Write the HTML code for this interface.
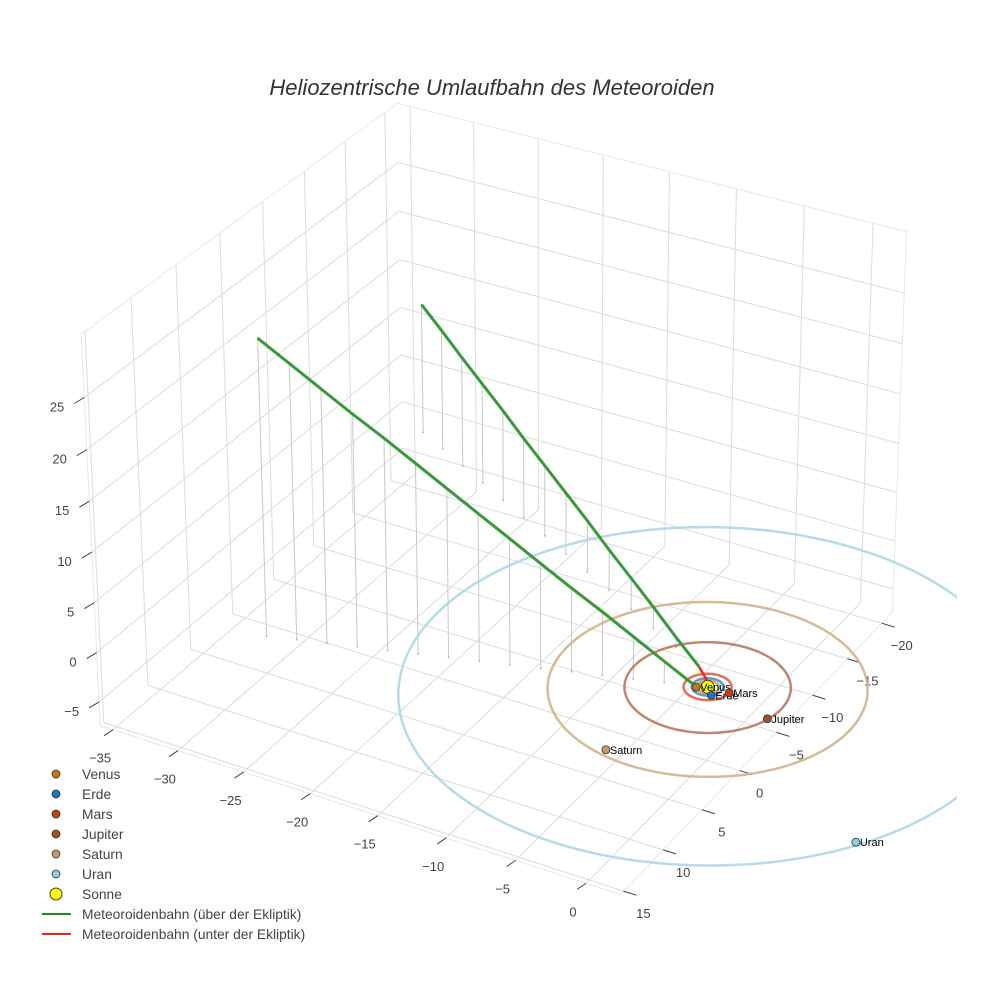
<!DOCTYPE html>
<html><head><meta charset="utf-8"><style>
body{margin:0;background:#fff;}
svg{display:block;font-family:"Liberation Sans",sans-serif;}
</style></head><body>
<svg id="chart" width="984" height="984" viewBox="0 0 984 984">
<rect width="984" height="984" fill="#fff"/>
<text x="492" y="95" text-anchor="middle" font-size="22" font-style="italic" fill="#333">Heliozentrische Umlaufbahn des Meteoroiden</text>
<defs><clipPath id="clip"><rect x="0" y="0" width="957" height="984"/></clipPath></defs>
<g id="grid"></g>
<g id="axes"></g>
<g id="drops"></g>
<g id="orbits" clip-path="url(#clip)"></g>
<g id="traj"></g>
<g id="planets"></g>
<g id="legend"></g>
</svg>
<script>
// ---- data ----
const planetNames = ["Venus","Erde","Mars","Jupiter","Saturn","Uran"];
const planetRadius = [0.72, 1.0, 1.52, 5.2, 9.54, 19.2];
const orbitRadius = [0.72, 1.0, 1.52, 5.25, 10.1, 19.5];
const planetAngle = [149, 48, -2, 15.5, 102.7, 33.8];
const planetColors = ["#c27c0e","#1f77b4","#c1440e","#a0522d","#c49a6c","#8fd0e0"];
const orbitColors = ["#d9a050","#4a90c8","#e06040","#b87a60","#d2b48c","#add8e6"];
const traj1X = [-27.6,-25.68,-23.76,-21.84,-19.92,-18.0,-16.08,-14.16,-12.24,-10.32,-8.4,-6.48,-4.56,-2.64,-0.7];
const traj1Y = [8.5,7.91,7.33,6.74,6.16,5.57,4.99,4.4,3.81,3.23,2.64,2.06,1.47,0.89,0.3];
const traj1Z = [29.2,27.1,25.0,22.9,20.9,18.8,16.7,14.6,12.5,10.4,8.3,6.3,4.2,2.1,0];
const traj2X = [-32.5,-30.13,-27.75,-25.38,-23.0,-20.63,-18.25,-15.88,-13.5,-11.13,-8.75,-6.38,-4.0,-1.6];
const traj2Y = [-18.7,-17.4,-16.1,-14.8,-13.5,-12.2,-10.9,-9.6,-8.3,-7.0,-5.7,-4.4,-3.1,-1.8];
const traj2Z = [13.4,12.4,11.3,10.3,9.3,8.2,7.2,6.2,5.2,4.1,3.1,2.1,1.0,0];
const trajRedX = [-1.6,-0.8,0];
const trajRedY = [-1.8,-1.1,-0.4];
const trajRedZ = [0,-0.15,-0.3];
const xTicks = [-35,-30,-25,-20,-15,-10,-5,0];
const yTicks = [-20,-15,-10,-5,0,5,10,15];
const zTicks = [-5,0,5,10,15,20,25];
const legendLabels = ["Venus","Erde","Mars","Jupiter","Saturn","Uran","Sonne","Meteoroidenbahn (über der Ekliptik)","Meteoroidenbahn (unter der Ekliptik)"];

// ---- camera calibration (box corners -> screen) ----
const XR=[-36,2.4], YR=[-21.6,15.4], ZR=[-7.4,31];
const calib = [
 [[XR[0],YR[1],ZR[0]],[99,726]],
 [[XR[1],YR[1],ZR[0]],[620,895]],
 [[XR[1],YR[0],ZR[0]],[892,613]],
 [[XR[0],YR[1],ZR[1]],[81,335]],
 [[XR[1],YR[0],ZR[1]],[906,231]],
 [[XR[0],YR[0],ZR[1]],[398,103]],
 [[0,0,0],[709,685]],
 [[-25,YR[1],ZR[0]],[245,770]],
 [[XR[1],0,ZR[0]],[739,772]],
 [[XR[0],YR[1],25],[84,398]]
];
function solveCam(){
  const A=[],b=[];
  calib.forEach(([[X,Y,Z],[u,v]])=>{
    A.push([X,Y,Z,1,0,0,0,0,-u*X,-u*Y,-u*Z]);b.push(u);
    A.push([0,0,0,0,X,Y,Z,1,-v*X,-v*Y,-v*Z]);b.push(v);
  });
  const n=11,M=[];
  for(let i=0;i<n;i++){M.push([]);for(let j=0;j<=n;j++){let s=0;for(let k=0;k<A.length;k++)s+=A[k][i]*(j<n?A[k][j]:b[k]);M[i].push(s);}}
  for(let i=0;i<n;i++){let p=i;for(let r=i+1;r<n;r++)if(Math.abs(M[r][i])>Math.abs(M[p][i]))p=r;[M[i],M[p]]=[M[p],M[i]];
    for(let r=0;r<n;r++){if(r===i)continue;const f=M[r][i]/M[i][i];for(let c=i;c<=n;c++)M[r][c]-=f*M[i][c];}}
  return M.map((row,i)=>row[n]/row[i]);
}
const P=solveCam();
function proj(x,y,z){const w=P[8]*x+P[9]*y+P[10]*z+1;return [(P[0]*x+P[1]*y+P[2]*z+P[3])/w,(P[4]*x+P[5]*y+P[6]*z+P[7])/w];}
const NS="http://www.w3.org/2000/svg";
function mk(tag,attrs,parent){const e=document.createElementNS(NS,tag);for(const k in attrs)e.setAttribute(k,attrs[k]);parent.appendChild(e);return e;}
function line3(a,b,attrs,parent){const p=proj(...a),q=proj(...b);return mk("line",Object.assign({x1:p[0],y1:p[1],x2:q[0],y2:q[1]},attrs),parent);}
function poly3(pts,attrs,parent){return mk("polyline",Object.assign({points:pts.map(p=>proj(...p).map(v=>v.toFixed(1)).join(",")).join(" "),fill:"none"},attrs),parent);}

const grid=document.getElementById("grid"), axes=document.getElementById("axes");
const gs={stroke:"#dcdcdc","stroke-width":1};
yTicks.forEach(y=>{const l=line3([XR[0],y,ZR[0]],[XR[0],y,ZR[1]],gs,grid);});
zTicks.forEach(z=>{const l=line3([XR[0],YR[0],z],[XR[0],YR[1],z],gs,grid);});
xTicks.forEach(x=>{const l=line3([x,YR[0],ZR[0]],[x,YR[0],ZR[1]],gs,grid);});
zTicks.forEach(z=>{const l=line3([XR[0],YR[0],z],[XR[1],YR[0],z],gs,grid);});
xTicks.forEach(x=>{const l=line3([x,YR[0],ZR[0]],[x,YR[1],ZR[0]],gs,grid);});
yTicks.forEach(y=>{const l=line3([XR[0],y,ZR[0]],[XR[1],y,ZR[0]],gs,grid);});
const es={stroke:"#e8e8e8","stroke-width":1};
[[[XR[0],YR[1],ZR[0]],[XR[1],YR[1],ZR[0]]],[[XR[1],YR[1],ZR[0]],[XR[1],YR[0],ZR[0]]],[[XR[0],YR[1],ZR[0]],[XR[0],YR[1],ZR[1]]],[[XR[1],YR[0],ZR[0]],[XR[1],YR[0],ZR[1]]],[[XR[0],YR[1],ZR[1]],[XR[0],YR[0],ZR[1]]],[[XR[0],YR[0],ZR[1]],[XR[1],YR[0],ZR[1]]]].forEach(([a,b])=>{const l=line3(a,b,es,grid);});
const ts={stroke:"#444","stroke-width":1};
xTicks.forEach(x=>{const p=proj(x,YR[1],ZR[0]);
  const t=mk("line",Object.assign({x1:p[0],y1:p[1],x2:p[0]-9,y2:p[1]+6},ts),axes);
  const tx=mk("text",{x:p[0]-13,y:p[1]+33,"text-anchor":"middle","font-size":13,fill:"#444"},axes);tx.textContent=String(x).replace("-","\u2212");});
yTicks.forEach(y=>{const p=proj(XR[1],y,ZR[0]);
  const t=mk("line",Object.assign({x1:p[0],y1:p[1],x2:p[0]+13,y2:p[1]+4},ts),axes);
  const tx=mk("text",{x:p[0]+20,y:p[1]+27,"text-anchor":"middle","font-size":13,fill:"#444"},axes);tx.textContent=String(y).replace("-","\u2212");});
zTicks.forEach(z=>{const p=proj(XR[0],YR[1],z);
  const t=mk("line",Object.assign({x1:p[0],y1:p[1],x2:p[0]-10,y2:p[1]+6},ts),axes);
  const tx=mk("text",{x:p[0]-20,y:p[1]+14,"text-anchor":"end","font-size":13,fill:"#444"},axes);tx.textContent=String(z).replace("-","\u2212");});

const drops=document.getElementById("drops");
function dropsFor(X,Y,Z){X.forEach((x,i)=>{if(Z[i]<=0)return;const l=line3([x,Y[i],Z[i]],[x,Y[i],0],{stroke:"#c8c8c8","stroke-width":1},drops);
  const p=proj(x,Y[i],0);const c=mk("circle",{cx:p[0],cy:p[1],r:1,fill:"#bbb"},drops);});}
dropsFor(traj1X,traj1Y,traj1Z);dropsFor(traj2X,traj2Y,traj2Z);

const orbits=document.getElementById("orbits");
orbitRadius.forEach((r,i)=>{const pts=[];for(let k=0;k<=180;k++){const a=k/180*2*Math.PI;pts.push([r*Math.cos(a),r*Math.sin(a),0]);}
  const o=poly3(pts,{stroke:orbitColors[i],"stroke-width":2.5,"stroke-opacity":0.9},orbits);});

const traj=document.getElementById("traj");
const t1=poly3(traj1X.map((x,i)=>[x,traj1Y[i],traj1Z[i]]),{stroke:"#3a9a3a","stroke-width":3},traj);
const t2=poly3(traj2X.map((x,i)=>[x,traj2Y[i],traj2Z[i]]),{stroke:"#3a9a3a","stroke-width":3},traj);
const t3=poly3(trajRedX.map((x,i)=>[x,trajRedY[i],trajRedZ[i]]),{stroke:"#e82828","stroke-width":2.5},traj);

const planets=document.getElementById("planets");
const sp=proj(0,0,0);
const sun=mk("circle",{cx:sp[0],cy:sp[1],r:6.5,fill:"#ffff00",stroke:"#444","stroke-width":1},planets);
planetNames.forEach((n,i)=>{const a=planetAngle[i]*Math.PI/180;const p=proj(planetRadius[i]*Math.cos(a),planetRadius[i]*Math.sin(a),0);
  const c=mk("circle",{cx:p[0],cy:p[1],r:4,fill:planetColors[i],stroke:"#333","stroke-width":0.8},planets);
  const t=mk("text",{x:p[0]+4,y:p[1]+4,"font-size":11,fill:"#000"},planets);t.textContent=n;});

const legend=document.getElementById("legend");
legendLabels.forEach((lab,i)=>{const y=774+i*20;const g=mk("g",{},legend);
  if(i<6){mk("circle",{cx:56,cy:y,r:4,fill:planetColors[i],stroke:"#333","stroke-width":0.8},g);}
  else if(i===6){mk("circle",{cx:56,cy:y,r:6,fill:"#ffff00",stroke:"#444","stroke-width":1},g);}
  else {mk("line",{x1:42,y1:y,x2:71,y2:y,stroke:i===7?"#228b22":"#e82828","stroke-width":2},g);}
  const t=mk("text",{x:82,y:y+5,"font-size":13.8,fill:"#444"},g);t.textContent=lab;});
</script>
</body></html>
